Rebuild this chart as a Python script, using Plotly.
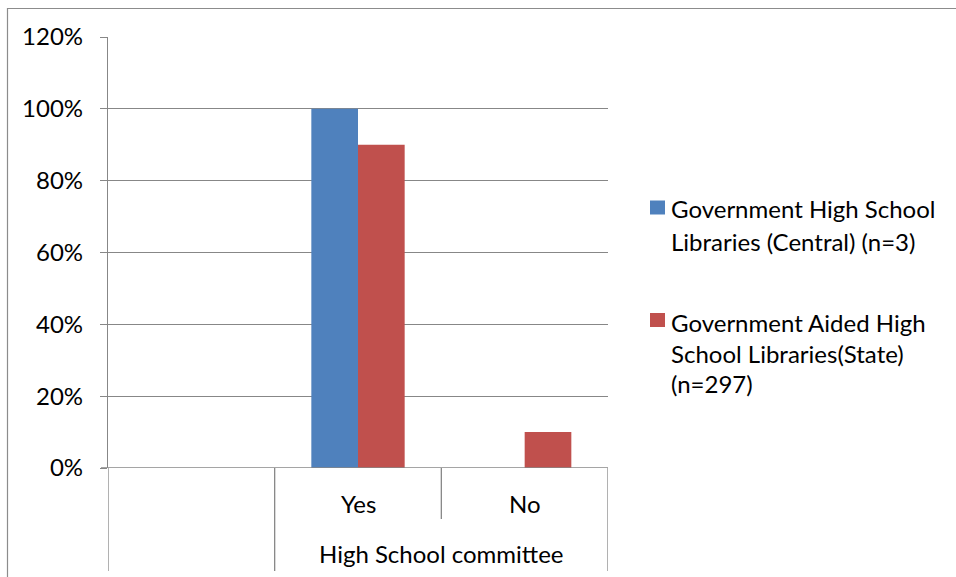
import plotly.graph_objects as go

# Categories along the x axis (first slot is left blank, as in the source sheet)
categories = ["", "Yes", "No"]
group_label = "High School committee"

# Share of libraries per response
central_values = [None, 1.00, 0.00]
state_values = [None, 0.90, 0.10]

series_names = [
    "Government High School Libraries (Central) (n=3)",
    "Government Aided High School Libraries(State) (n=297)",
]
legend_lines = [
    ["Government High School", "Libraries (Central) (n=3)"],
    ["Government Aided High", "School Libraries(State)", "(n=297)"],
]

y_ticks = [0, 0.2, 0.4, 0.6, 0.8, 1.0, 1.2]

BLUE = "#4F81BD"
RED = "#C0504D"
GRID = "#878787"
FONT = "Lato"
FS = 24

W, H = 956, 577
L, R, T, B = 108, 348, 37, 109
PW, PH = W - L - R, H - T - B


def px_to_paper_x(px):
    return (px - L) / PW


def px_to_paper_y(py):
    return (H - B - py) / PH


positions = list(range(len(categories)))

fig = go.Figure()
fig.add_trace(go.Bar(x=positions, y=central_values, name=series_names[0],
                     marker=dict(color=BLUE, line=dict(width=0))))
fig.add_trace(go.Bar(x=positions, y=state_values, name=series_names[1],
                     marker=dict(color=RED, line=dict(width=0))))

shapes = []
# outer chart border
shapes.append(dict(type="rect", xref="paper", yref="paper",
                   x0=px_to_paper_x(7.5), x1=px_to_paper_x(1000),
                   y0=px_to_paper_y(650), y1=px_to_paper_y(8.5),
                   line=dict(color="#8c8c8c", width=1.2), fillcolor="rgba(0,0,0,0)",
                   layer="below"))
# category dividers below the axis
for i, xb in enumerate([p - 0.5 for p in positions] + [positions[-1] + 0.5]):
    bottom = 519 if i == 2 else 571
    shapes.append(dict(type="line", xref="x", yref="paper",
                       x0=xb, x1=xb, y0=0, y1=px_to_paper_y(bottom),
                       line=dict(color=GRID, width=1.3)))
# baseline extending to the left tick
shapes.append(dict(type="line", xref="paper", yref="y",
                   x0=px_to_paper_x(101), x1=1, y0=0, y1=0,
                   line=dict(color=GRID, width=1.3)))

annotations = []
for p, c in zip(positions, categories):
    if c:
        annotations.append(dict(x=p, y=px_to_paper_y(503), xref="x", yref="paper",
                                text=c, showarrow=False, xanchor="center", yanchor="middle",
                                font=dict(family=FONT, size=FS, color="black")))
annotations.append(dict(x=(positions[1] + positions[2]) / 2, y=px_to_paper_y(553),
                        xref="x", yref="paper", text=group_label, showarrow=False,
                        xanchor="center", yanchor="middle",
                        font=dict(family=FONT, size=FS, color="black")))

# legend: swatches and wrapped names
legend_rows = [[208, 241], [322, 353, 383]]
swatch_centers = [207.5, 320]
for color, lines, rows, sc in zip([BLUE, RED], legend_lines, legend_rows, swatch_centers):
    shapes.append(dict(type="rect", xref="paper", yref="paper",
                       x0=px_to_paper_x(650), x1=px_to_paper_x(665),
                       y0=px_to_paper_y(sc + 7), y1=px_to_paper_y(sc - 7),
                       fillcolor=color, line=dict(width=0)))
    for text, yy in zip(lines, rows):
        annotations.append(dict(x=px_to_paper_x(669), y=px_to_paper_y(yy),
                                xref="paper", yref="paper", text=text, showarrow=False,
                                xanchor="left", yanchor="middle",
                                font=dict(family=FONT, size=FS, color="black")))

fig.update_layout(
    width=W, height=H,
    margin=dict(l=L, r=R, t=T, b=B, pad=0),
    paper_bgcolor="white", plot_bgcolor="white",
    barmode="group", bargap=0.44, bargroupgap=0,
    showlegend=False,
    shapes=shapes, annotations=annotations,
    font=dict(family=FONT, size=FS, color="black"),
    xaxis=dict(range=[-0.5, len(categories) - 0.5], showticklabels=False,
               showgrid=False, zeroline=False, showline=False, ticks="",
               fixedrange=True),
    yaxis=dict(range=[0, 1.2], tickvals=y_ticks, tickformat=".0%",
               showgrid=True, gridcolor=GRID, gridwidth=1.3,
               zeroline=False, showline=True, linecolor=GRID, linewidth=1.3,
               ticks="outside", ticklen=7, tickcolor=GRID, tickwidth=1.3,
               ticklabelstandoff=12,
               tickfont=dict(family=FONT, size=FS, color="black"),
               fixedrange=True),
)

fig.write_html("out.html", config={"displayModeBar": False})
